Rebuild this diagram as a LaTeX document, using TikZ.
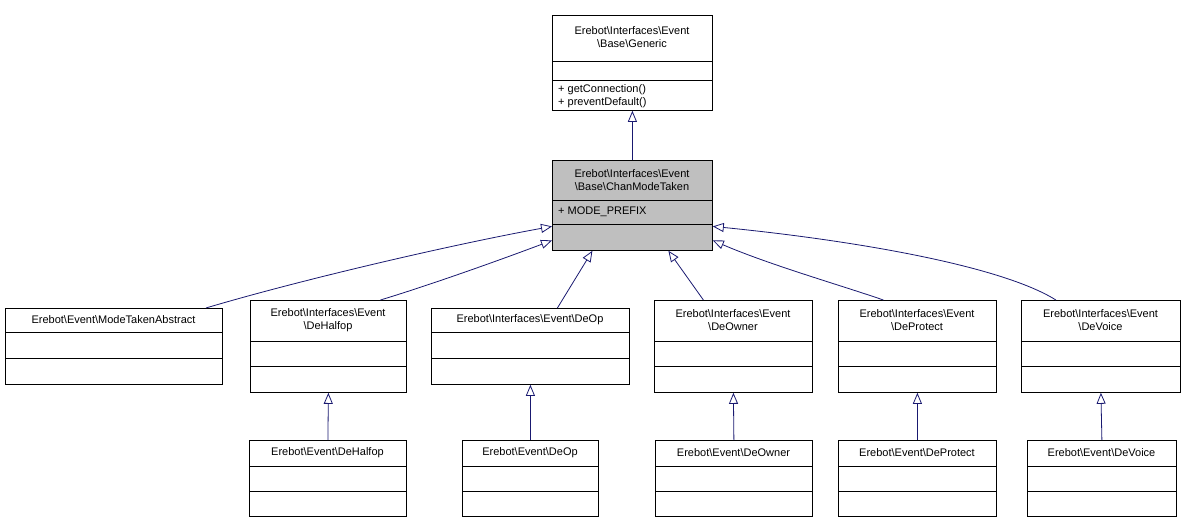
\documentclass[tikz,border=0pt]{standalone}
\usepackage{fontspec}
\setmainfont{Liberation Sans}
\usetikzlibrary{arrows.meta}
\definecolor{edge}{RGB}{25,25,112}
\definecolor{hl}{RGB}{191,191,191}
\tikzset{
  umlbox/.style={draw=black, line width=0.8pt, inner sep=0pt, anchor=north west},
  lbl/.style={font=\fontsize{11}{13}\selectfont, inner sep=0pt, align=center},
  inh/.style={draw=edge, line width=0.8pt, -{Triangle[open, length=11pt, width=9pt]}}
}
% name x1 y1 x2 y2 s1 s2 fill
\newcommand\umlb[8]{%
  \pgfmathsetmacro\bw{#4-#2}\pgfmathsetmacro\bh{#5-#3}%
  \node[umlbox, fill=#8, minimum width=\bw pt, minimum height=\bh pt] (#1) at (#2,#3) {};
  \draw[line width=0.8pt] (#2,#6) -- (#4,#6) (#2,#7) -- (#4,#7);
}
\begin{document}
\begin{tikzpicture}[x=1pt,y=-1pt]
\useasboundingbox (0,0) rectangle (1187,523);
\umlb{gen}{552}{15}{712}{110}{61}{80}{white}
\node[lbl] at (632,37) {Erebot\textbackslash Interfaces\textbackslash Event\\\textbackslash Base\textbackslash Generic};
\node[lbl, align=left, anchor=north west] at (558,84) {+ getConnection()\\+ preventDefault()};
\umlb{cmt}{552}{160}{712}{250}{200}{224}{hl}
\node[lbl] at (632,180) {Erebot\textbackslash Interfaces\textbackslash Event\\\textbackslash Base\textbackslash ChanModeTaken};
\node[lbl, anchor=west] at (558,212) {+ MODE\_PREFIX};

\umlb{mta}{5}{308}{222}{384}{332}{358}{white}
\node[lbl] at (113.5,320) {Erebot\textbackslash Event\textbackslash ModeTakenAbstract};
\umlb{idh}{250}{300}{406}{392}{341}{366}{white}
\node[lbl] at (328,320) {Erebot\textbackslash Interfaces\textbackslash Event\\\textbackslash DeHalfop};
\umlb{ido}{431}{308}{629}{384}{332}{358}{white}
\node[lbl] at (530,320) {Erebot\textbackslash Interfaces\textbackslash Event\textbackslash DeOp};
\umlb{idw}{654}{300}{812}{392}{341}{366}{white}
\node[lbl] at (733,320) {Erebot\textbackslash Interfaces\textbackslash Event\\\textbackslash DeOwner};
\umlb{idp}{838}{300}{996}{392}{341}{366}{white}
\node[lbl] at (917,320) {Erebot\textbackslash Interfaces\textbackslash Event\\\textbackslash DeProtect};
\umlb{idv}{1021}{300}{1180}{392}{341}{366}{white}
\node[lbl] at (1100.5,320) {Erebot\textbackslash Interfaces\textbackslash Event\\\textbackslash DeVoice};

\umlb{eh}{249}{440}{406}{516}{466}{491}{white}
\node[lbl] at (327.5,453) {Erebot\textbackslash Event\textbackslash DeHalfop};
\umlb{eo}{462}{440}{598}{516}{466}{491}{white}
\node[lbl] at (530,453) {Erebot\textbackslash Event\textbackslash DeOp};
\umlb{ew}{655}{440}{812}{516}{466}{491}{white}
\node[lbl] at (733.5,453) {Erebot\textbackslash Event\textbackslash DeOwner};
\umlb{ep}{838}{440}{996}{516}{466}{491}{white}
\node[lbl] at (917,453) {Erebot\textbackslash Event\textbackslash DeProtect};
\umlb{ev}{1027}{440}{1176}{516}{466}{491}{white}
\node[lbl] at (1101.5,453) {Erebot\textbackslash Event\textbackslash DeVoice};

\draw[inh] (cmt.north) -- (gen.south);
\draw[inh] (eh.north) -- (idh.south);
\draw[inh] (eo.north) -- (ido.south);
\draw[inh] (ew.north) -- (idw.south);
\draw[inh] (ep.north) -- (idp.south);
\draw[inh] (ev.north) -- (idv.south);

\draw[inh] ([xshift=92pt]mta.north) .. controls (300,280) and (450,245) .. ([yshift=-21pt]cmt.west);
\draw[inh] ([xshift=52pt]idh.north) .. controls (430,285) and (500,260) .. ([yshift=-35pt]cmt.west);
\draw[inh] ([xshift=27pt]ido.north) -- ([xshift=-40pt]cmt.south);
\draw[inh] ([xshift=-30pt]idw.north) -- ([xshift=36pt]cmt.south);
\draw[inh] ([xshift=-34pt]idp.north) .. controls (840,285) and (770,265) .. ([yshift=-35pt]cmt.east);
\draw[inh] ([xshift=-45pt]idv.north) .. controls (1000,265) and (850,240) .. ([yshift=-21pt]cmt.east);
\end{tikzpicture}
\end{document}
